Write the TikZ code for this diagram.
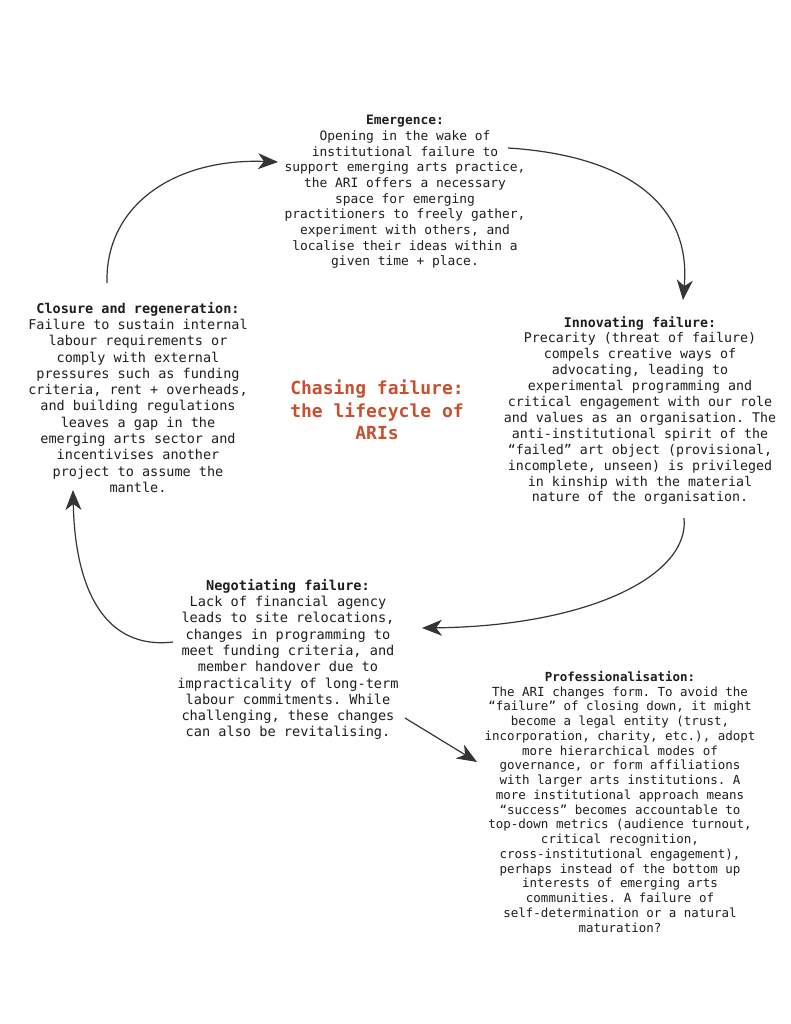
\documentclass[tikz,border=0pt]{standalone}
\usepackage{fontspec}
\setmonofont{DejaVu Sans Mono}
\usetikzlibrary{arrows.meta}
\definecolor{ink}{HTML}{1E1E1E}
\definecolor{rust}{HTML}{C8502E}

\begin{document}
\begin{tikzpicture}[x=1pt,y=-1pt,
 stage/.style 2 args={align=center,anchor=north,inner sep=0pt,text=ink,font=\ttfamily\fontsize{#1}{#2}\selectfont},
 flow/.style={-{Stealth[length=20pt,width=16pt,inset=6pt]},line width=1.2pt,draw=ink!90}]
\useasboundingbox[fill=white] (0,0) rectangle (791,1024);
% the five stages
\node[stage={12.9pt}{15.7pt}] (emerge) at (405,115) {\textbf{Emergence:}\\
Opening in the wake of\\
institutional failure to\\
support emerging arts practice,\\
the ARI offers a necessary\\
space for emerging\\
practitioners to freely gather,\\
experiment with others, and\\
localise their ideas within a\\
given time + place.};
\node[stage={13.3pt}{15.9pt}] (innov) at (640,316) {\textbf{Innovating failure:}\\
Precarity (threat of failure)\\
compels creative ways of\\
advocating, leading to\\
experimental programming and\\
critical engagement with our role\\
and values as an organisation. The\\
anti-institutional spirit of the\\
“failed” art object (provisional,\\
incomplete, unseen) is privileged\\
in kinship with the material\\
nature of the organisation.};
\node[stage={13.5pt}{16.3pt}] (closure) at (138,302) {\textbf{Closure and regeneration:}\\
Failure to sustain internal\\
labour requirements or\\
comply with external\\
pressures such as funding\\
criteria, rent + overheads,\\
and building regulations\\
leaves a gap in the\\
emerging arts sector and\\
incentivises another\\
project to assume the\\
mantle.};
\node[stage={13.6pt}{16.3pt}] (negot) at (288,579) {\textbf{Negotiating failure:}\\
Lack of financial agency\\
leads to site relocations,\\
changes in programming to\\
meet funding criteria, and\\
member handover due to\\
impracticality of long-term\\
labour commitments. While\\
challenging, these changes\\
can also be revitalising.};
\node[stage={12.5pt}{14.75pt}] (prof) at (620,671) {\textbf{Professionalisation:}\\
The ARI changes form. To avoid the\\
“failure” of closing down, it might\\
become a legal entity (trust,\\
incorporation, charity, etc.), adopt\\
more hierarchical modes of\\
governance, or form affiliations\\
with larger arts institutions. A\\
more institutional approach means\\
“success” becomes accountable to\\
top-down metrics (audience turnout,\\
critical recognition,\\
cross-institutional engagement),\\
perhaps instead of the bottom up\\
interests of emerging arts\\
communities. A failure of\\
self-determination or a natural\\
maturation?};
% title in the middle
\node[stage={18pt}{22.5pt},text=rust,font=\ttfamily\bfseries\fontsize{18pt}{22.5pt}\selectfont] (title) at (377,380) {Chasing failure:\\the lifecycle of\\ARIs};
% the cycle
\draw[flow] ([shift={(-31,-19)}]closure.north) .. controls +(-2,-78) and +(-103,-4) .. ([shift={(-127,47)}]emerge.north);
\draw[flow] ([shift={(103,33)}]emerge.north) .. controls +(112,7) and +(9,-100) .. ([shift={(43,-16)}]innov.north);
\draw[flow] ([shift={(44,202)}]innov.north) .. controls +(6,57) and +(168,-2) .. ([shift={(134,49)}]negot.north);
\draw[flow] ([shift={(-115,63)}]negot.north) .. controls +(-68,8) and +(2,100) .. ([shift={(-65,188)}]closure.north);
\draw[flow] ([shift={(117,139)}]negot.north) -- ([shift={(-143,91)}]prof.north);
\end{tikzpicture}
\end{document}
